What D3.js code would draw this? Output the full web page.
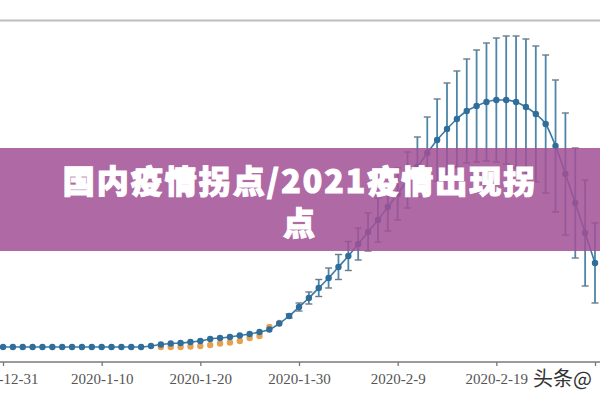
<!DOCTYPE html>
<html lang="zh-cn">
  <head>
    <meta charset="utf-8">
    <title>国内疫情拐点</title>
    <script src="https://d3js.org/d3.v7.min.js"></script>
    <style>
      body { margin: 0; background: #fff; }
      .eixo text { font: 15px "Liberation Serif", serif; fill: #555; }
      .eixo line { stroke: #777; stroke-width: 1.3; }
    </style>
  </head>
  <body>
    <div id="chart"></div>

    <script type="text/javascript">
      // dados (unidade arbitraria, 0 = base)
      var dataInicio = new Date(2019, 11, 31);
      var valoresAzul = [0, 0, 0, 0, 0, 0, 0, 0, 0, 0, 0, 0, 0, 0, 0,
                         1, 2.5, 3.5, 4, 5, 6, 8, 9, 10, 11.5, 13, 15, 17.5, 23.5, 31,
                         40, 49, 59, 69, 80, 91, 103, 115, 127, 140, 153, 167, 180, 194, 207,
                         218, 228, 236, 241, 245, 247, 247, 245, 240, 233, 223, 201, 173, 144, 114, 84];
      var errosAzul = [0, 0, 0, 0, 0, 0, 0, 0, 0, 0, 0, 0, 0, 0, 0,
                       0, 0, 0, 0, 0, 0, 0, 0, 0, 0, 0, 0, 0, 0, 2,
                       4, 6, 8.5, 10, 12.5, 14.5, 16, 19, 22, 24, 26, 28, 30, 36, 41,
                       46, 48, 52, 56, 59, 62, 64, 66, 68, 68, 69, 66, 61, 55, 53, 40];
      var inicioLaranja = 16;
      var valoresLaranja = [0, 0, 0, 0.5, 1, 2, 3.5, 4.5, 6, 9, 11, 20, 24];
      var datasTicks = [new Date(2019, 11, 31), new Date(2020, 0, 10), new Date(2020, 0, 20),
                        new Date(2020, 0, 30), new Date(2020, 1, 9), new Date(2020, 1, 19),
                        new Date(2020, 1, 29)];
      var rotulosTicks = ["2019-12-31", "2020-1-10", "2020-1-20", "2020-1-30", "2020-2-9", "2020-2-19", ""];
      var tituloLinhas = ["国内疫情拐点/2021疫情出现拐", "点"];
      var marcaDagua = "头条@";

      var largura = 600, altura = 400;

      var svg = d3.select('#chart')
                  .append('svg')
                    .attr('width', largura)
                    .attr('height', altura)
                    .style('display', 'block');

      var x = d3.scaleTime()
                .domain([datasTicks[0], datasTicks[datasTicks.length - 1]])
                .range([3, 595]);

      var y = d3.scaleLinear()
                .domain([0, 300])
                .range([347, 47]);

      var dia = i => d3.timeDay.offset(dataInicio, i);

      var azul = valoresAzul.map((v, i) => ({data: dia(i), valor: v, erro: errosAzul[i]}));
      var laranja = valoresLaranja.map((v, i) => ({data: dia(i + inicioLaranja), valor: v}));

      // linha cinza do topo
      svg.append('line')
        .attr('x1', 0).attr('x2', largura)
        .attr('y1', 20.5).attr('y2', 20.5)
        .attr('stroke', '#bdbdbd')
        .attr('stroke-width', 2.2);

      // eixo x
      svg.append('line')
        .attr('x1', 0).attr('x2', largura)
        .attr('y1', 362).attr('y2', 362)
        .attr('stroke', '#7a7a7a')
        .attr('stroke-width', 1.4);

      var eixo = svg.append('g')
        .attr('class', 'eixo')
        .attr('transform', 'translate(0,362)')
        .call(d3.axisBottom(x)
                .tickValues(datasTicks)
                .tickFormat((d, i) => rotulosTicks[i])
                .tickSize(4)
                .tickSizeOuter(0)
                .tickPadding(7));
      eixo.select('.domain').remove();

      /*
       * barras de erro
       */
      var comErro = azul.filter(d => d.erro > 0);
      var barras = svg.append('g')
      barras.selectAll('line.vert')
        .data(comErro)
        .enter()
        .append('line')
          .attr('class', 'vert')
          .attr('x1', d => x(d.data)).attr('x2', d => x(d.data))
          .attr('y1', d => y(d.valor + d.erro))
          .attr('y2', d => y(d.valor - d.erro))
          .attr('stroke', '#4d86a8')
          .attr('stroke-width', 1.8);

      [1, -1].forEach(function(s){
        barras.selectAll('line.cap' + (s > 0 ? 'a' : 'b'))
          .data(comErro)
          .enter()
          .append('line')
            .attr('class', 'cap' + (s > 0 ? 'a' : 'b'))
            .attr('x1', d => x(d.data) - 3.5).attr('x2', d => x(d.data) + 3.5)
            .attr('y1', d => y(d.valor + s * d.erro))
            .attr('y2', d => y(d.valor + s * d.erro))
            .attr('stroke', '#6a7c88')
            .attr('stroke-width', 1.4);
      });

      // pontos laranja
      svg.append('g').selectAll('circle')
        .data(laranja)
        .enter()
        .append('circle')
          .attr('cx', d => x(d.data))
          .attr('cy', d => y(d.valor))
          .attr('r', 3.2)
          .attr('fill', '#e4a250');

      // linha azul
      var linha = d3.line()
                    .x(d => x(d.data))
                    .y(d => y(d.valor))
                    .curve(d3.curveMonotoneX);

      svg.append('path')
        .datum(azul)
        .attr('d', linha)
        .attr('fill', 'none')
        .attr('stroke', '#3a79a6')
        .attr('stroke-width', 1.6);

      svg.append('g').selectAll('circle')
        .data(azul)
        .enter()
        .append('circle')
          .attr('cx', d => x(d.data))
          .attr('cy', d => y(d.valor))
          .attr('r', 3.2)
          .attr('fill', '#2f6d9b');

      // marca d'agua
      svg.append('text')
        .attr('x', 533)
        .attr('y', 386)
        .style('font', '20px "Noto Sans CJK SC", sans-serif')
        .attr('fill', '#333')
        .attr('stroke', '#fff')
        .attr('stroke-width', 3)
        .style('paint-order', 'stroke')
        .text(marcaDagua);

      /*
       * faixa roxa com o titulo
       */
      svg.append('rect')
        .attr('x', 0).attr('y', 148)
        .attr('width', largura).attr('height', 103)
        .attr('fill', 'rgba(162,80,150,0.86)');

      svg.selectAll('text.titulo')
        .data(tituloLinhas)
        .enter()
        .append('text')
          .attr('class', 'titulo')
          .attr('x', 300)
          .attr('y', (d, i) => 193 + i * 42)
          .attr('text-anchor', 'middle')
          .attr('fill', '#fff')
          .attr('stroke', '#fff')
          .attr('stroke-width', 1.1)
          .style('font-family', '"Noto Sans CJK SC", sans-serif')
          .style('font-size', '32px')
          .style('font-weight', 900)
          .style('letter-spacing', '2px')
          .text(d => d);
    </script>
  </body>
</html>
